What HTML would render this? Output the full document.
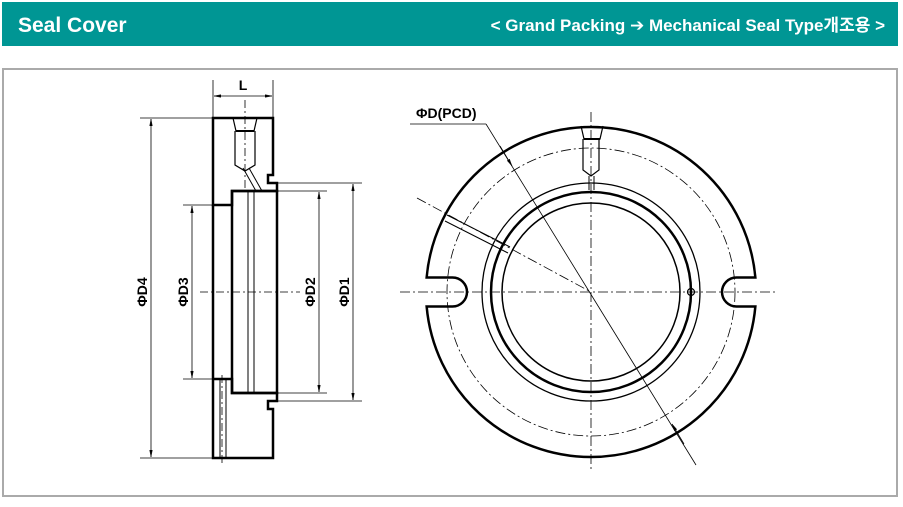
<!DOCTYPE html>
<html><head><meta charset="utf-8"><style>
body{margin:0;width:903px;height:502px;background:#fff;overflow:hidden;font-family:"Liberation Sans","Noto Sans CJK KR",sans-serif}
</style></head><body>
<svg width="903" height="502" viewBox="0 0 903 502" xmlns="http://www.w3.org/2000/svg">
<defs><marker id="a" viewBox="0 0 10 10" refX="10" refY="5" markerWidth="9" markerHeight="9" orient="auto-start-reverse"><path d="M0,3 L10,5 L0,7 Z" fill="#000" stroke="#000" stroke-width="0.5"/></marker></defs>
<rect x="2" y="2" width="896" height="44" fill="#009694"/>
<text x="18" y="32" font-size="21" font-weight="bold" fill="#fff">Seal Cover</text>
<text x="885" y="31" font-size="17" font-weight="bold" fill="#fff" text-anchor="end">&lt; Grand Packing <tspan font-family="DejaVu Sans">➔</tspan> Mechanical Seal Type개조용 &gt;</text>
<rect x="3" y="69" width="894" height="427" fill="none" stroke="#aaa" stroke-width="2"/>
<g stroke="#000" fill="none">
<!-- left view -->
<path d="M213,118 H273 V175 H268 V183 H277 V191 H232 V205 H213 Z" stroke-width="2.5"/>
<path d="M213,205 V458 H273 V409 H268 V401 H277 V393 H232 V379 H213" stroke-width="2.5"/>
<rect x="232" y="191" width="45" height="202" stroke-width="2.5"/>
<line x1="248" y1="191" x2="248" y2="393" stroke-width="1"/><line x1="254" y1="191" x2="254" y2="393" stroke-width="1"/>
<line x1="220" y1="379" x2="220" y2="458" stroke-width="1"/><line x1="226" y1="379" x2="226" y2="458" stroke-width="1"/>
<line x1="213" y1="379" x2="232" y2="379" stroke-width="2"/>
<path d="M233,118 L236,131 H254 L257,118" stroke-width="1.2"/><line x1="236" y1="131" x2="254" y2="131" stroke-width="2"/>
<path d="M235,131 V165 L245,171 L255,165 V131" stroke-width="1.2"/>
<line x1="243" y1="168" x2="256" y2="191" stroke-width="1"/><line x1="249" y1="168" x2="262" y2="191" stroke-width="1"/>
<line x1="245" y1="100" x2="245" y2="191" stroke-width="0.8" stroke-dasharray="8,3,2,3"/>
<line x1="222" y1="375" x2="222" y2="465" stroke-width="0.8" stroke-dasharray="8,3,2,3"/>
<line x1="200" y1="292" x2="300" y2="292" stroke-width="0.8" stroke-dasharray="8,3,2,3"/>
<g stroke-width="0.8">
<line x1="213" y1="80" x2="213" y2="118"/><line x1="273" y1="80" x2="273" y2="118"/>
<line x1="214" y1="96" x2="272" y2="96" marker-start="url(#a)" marker-end="url(#a)"/>
<line x1="140" y1="118" x2="213" y2="118"/><line x1="140" y1="458" x2="213" y2="458"/>
<line x1="151" y1="119" x2="151" y2="457" marker-start="url(#a)" marker-end="url(#a)"/>
<line x1="183" y1="205" x2="213" y2="205"/><line x1="183" y1="379" x2="213" y2="379"/>
<line x1="192" y1="206" x2="192" y2="378" marker-start="url(#a)" marker-end="url(#a)"/>
<line x1="277" y1="191" x2="327" y2="191"/><line x1="277" y1="393" x2="327" y2="393"/>
<line x1="319" y1="192" x2="319" y2="392" marker-start="url(#a)" marker-end="url(#a)"/>
<line x1="277" y1="183" x2="362" y2="183"/><line x1="277" y1="401" x2="362" y2="401"/>
<line x1="353" y1="184" x2="353" y2="400" marker-start="url(#a)" marker-end="url(#a)"/>
</g>
<!-- right view -->
<path d="M426.638,277.5 A165,165 0 0 1 755.362,277.5 H736.5 A14.5,14.5 0 0 0 736.5,306.5 H755.362 A165,165 0 0 1 426.638,306.5 H452.5 A14.5,14.5 0 0 0 452.5,277.5 Z" stroke-width="2.5"/>
<circle cx="591" cy="292" r="144" stroke-width="0.8" stroke-dasharray="10,3,2,3"/>
<circle cx="591" cy="292" r="109" stroke-width="1.3"/>
<circle cx="591" cy="292" r="100" stroke-width="2.5"/>
<circle cx="591" cy="292" r="89" stroke-width="1.5"/>
<circle cx="691" cy="292" r="3.5" stroke-width="1.2"/>
<path d="M581,126 L584,139 H600 L603,126" stroke-width="1.2"/><line x1="584" y1="139" x2="600" y2="139" stroke-width="2"/>
<path d="M583,139 V170 L591,176 L599,170 V139" stroke-width="1.2"/>
<line x1="589" y1="176" x2="589" y2="190" stroke-width="1"/><line x1="594" y1="176" x2="594" y2="190" stroke-width="1"/>
<line x1="447" y1="215" x2="510" y2="247" stroke-width="1"/><line x1="445" y1="221" x2="508" y2="253" stroke-width="1"/>
<g stroke-width="0.8" stroke-dasharray="10,3,2,3">
<line x1="400" y1="292" x2="775" y2="292"/>
<line x1="591" y1="112" x2="591" y2="470"/>
<line x1="417" y1="198" x2="591" y2="292"/>
</g>
<line x1="410" y1="124" x2="486" y2="124" stroke-width="0.8"/>
<line x1="486" y1="124" x2="696" y2="465" stroke-width="0.8"/>
<line x1="500" y1="146" x2="512" y2="166" stroke-width="0.8" marker-end="url(#a)"/>
<line x1="684" y1="444" x2="672" y2="424" stroke-width="0.8" marker-end="url(#a)"/>
</g>
<g font-weight="bold" font-size="14" fill="#000">
<text x="243" y="90" text-anchor="middle">L</text>
<text x="416" y="118">ΦD(PCD)</text>
<text transform="translate(147,292) rotate(-90)" text-anchor="middle">ΦD4</text>
<text transform="translate(188,292) rotate(-90)" text-anchor="middle">ΦD3</text>
<text transform="translate(315,292) rotate(-90)" text-anchor="middle">ΦD2</text>
<text transform="translate(349,292) rotate(-90)" text-anchor="middle">ΦD1</text>
</g>
</svg>
</body></html>
